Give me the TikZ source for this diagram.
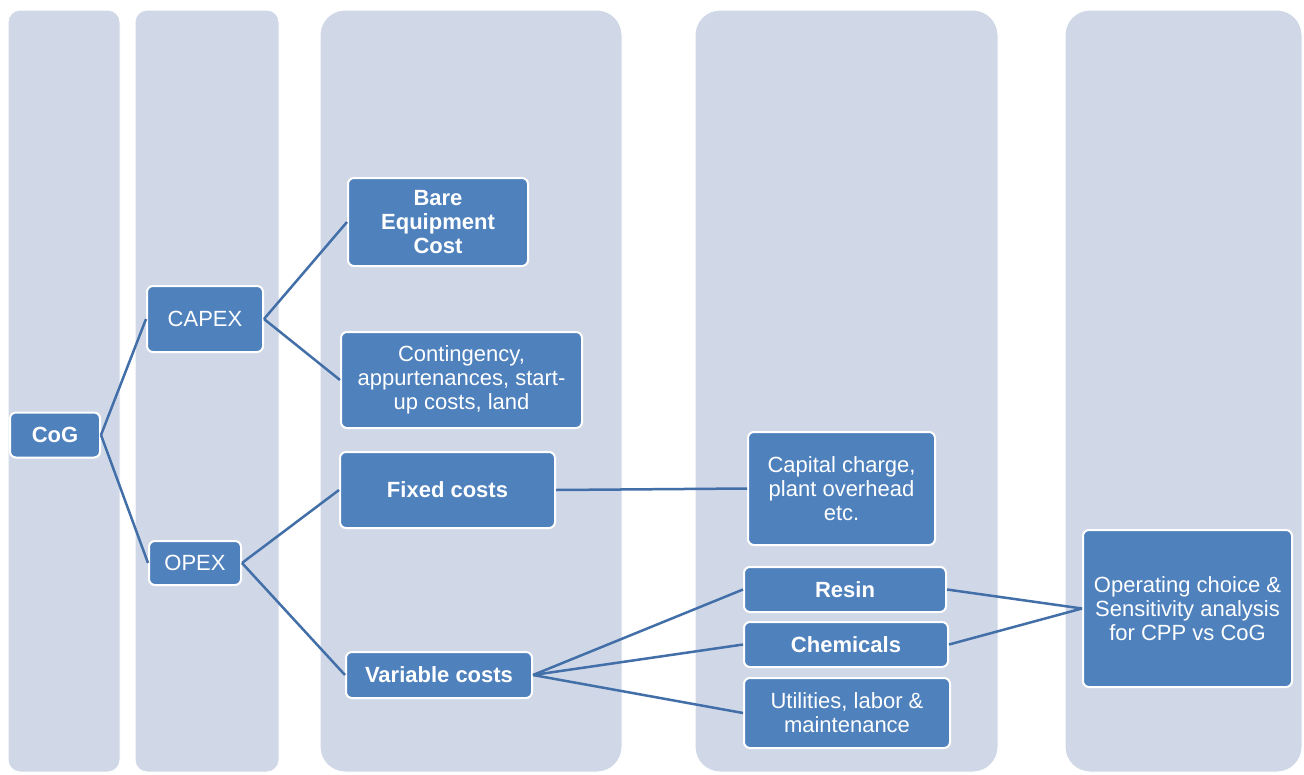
\documentclass[tikz,border=0pt]{standalone}
\usepackage{fontspec}
\setmainfont{Liberation Sans}
\usetikzlibrary{shapes}
\definecolor{colbg}{RGB}{208,216,232}
\definecolor{boxbg}{RGB}{79,129,189}
\definecolor{linkc}{RGB}{66,111,168}
\tikzstyle{col}=[fill=colbg,draw=white,line width=1pt]
\tikzstyle{cbox}=[rectangle,rounded corners=6pt,fill=boxbg,draw=white,line width=2pt,text=white,align=center,inner sep=0pt,font=\fontsize{22}{24}\selectfont]
\tikzstyle{bbox}=[cbox,font=\fontsize{22}{24}\selectfont\bfseries]
\tikzstyle{link}=[draw=linkc,line width=2.5pt]

\begin{document}
\begin{tikzpicture}[x=1pt,y=-1pt]
\useasboundingbox (0,0) rectangle (1304,774);
\fill[white] (0,0) rectangle (1304,774);
\draw[col,rounded corners=12pt] (8,10) rectangle (120,772);
\draw[col,rounded corners=12pt] (135,10) rectangle (279,772);
\draw[col,rounded corners=25pt] (320,10) rectangle (622,772);
\draw[col,rounded corners=25pt] (695,10) rectangle (998,772);
\draw[col,rounded corners=25pt] (1065,10) rectangle (1302,772);
\node[bbox,minimum width=90pt,minimum height=45pt] (cog) at (55,435) {CoG};
\node[cbox,minimum width=116pt,minimum height=66pt] (capex) at (205,319) {CAPEX};
\node[cbox,minimum width=92pt,minimum height=44pt] (opex) at (195,563) {OPEX};
\node[bbox,minimum width=180pt,minimum height=88pt] (bare) at (438,222) {Bare\\Equipment\\Cost};
\node[cbox,minimum width=241pt,minimum height=96pt] (cont) at (461.5,380) {Contingency,\\appurtenances, start-\\up costs, land};
\node[bbox,minimum width=215pt,minimum height=76pt] (fixed) at (447.5,490) {Fixed costs};
\node[bbox,minimum width=186pt,minimum height=46pt] (var) at (439,675) {Variable costs};
\node[cbox,minimum width=187pt,minimum height=113pt] (capch) at (841.5,488.5) {Capital charge,\\plant overhead\\etc.};
\node[bbox,minimum width=202pt,minimum height=45pt] (resin) at (845,589.5) {Resin};
\node[bbox,minimum width=204pt,minimum height=45pt] (chem) at (846,644.5) {Chemicals};
\node[cbox,minimum width=206pt,minimum height=70pt] (util) at (847,713) {Utilities, labor \&\\maintenance};
\node[cbox,minimum width=209pt,minimum height=157pt] (opch) at (1187.5,608.5) {Operating choice \&\\Sensitivity analysis\\for CPP vs CoG};
\draw[link] (cog.east)--(capex.west);\draw[link] (cog.east)--(opex.west);
\draw[link] (capex.east)--(bare.west);\draw[link] (capex.east)--(cont.west);
\draw[link] (opex.east)--(fixed.west);\draw[link] (opex.east)--(var.west);
\draw[link] (fixed.east)--(capch.west);
\draw[link] (var.east)--(resin.west);\draw[link] (var.east)--(chem.west);\draw[link] (var.east)--(util.west);
\draw[link] (resin.east)--(opch.west);\draw[link] (chem.east)--(opch.west);
\end{tikzpicture}
\end{document}
